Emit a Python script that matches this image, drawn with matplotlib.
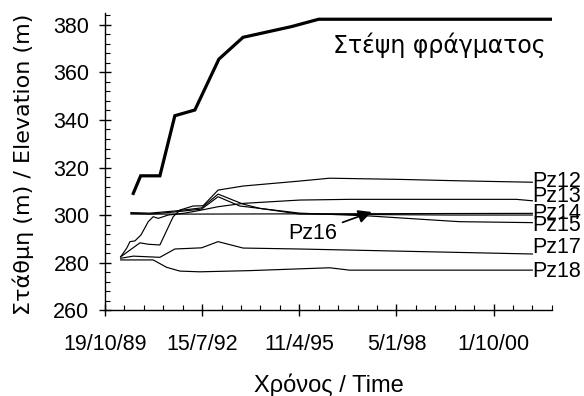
import matplotlib
matplotlib.use("Agg")
import matplotlib.pyplot as plt
import matplotlib.dates as mdates
import numpy as np
import pandas as pd

plt.rcParams['font.family'] = ['Liberation Sans', 'DejaVu Sans']

# ---- data ----
crest_dates = ["1990-08-06", "1990-10-21", "1991-05-07", "1991-10-08", "1992-05-01",
               "1993-01-03", "1993-09-09", "1995-01-20", "1995-10-27", "2002-05-18"]
crest_vals = [309.1, 316.5, 316.5, 341.8, 344.2, 365.6, 374.8, 379.3, 382.4, 382.4]

pz12_dates = ["1990-03-29", "1990-10-14", "1991-01-07", "1991-05-07", "1991-09-21",
              "1991-11-29", "1992-04-13", "1992-07-25", "1992-12-26", "1993-09-09",
              "1995-04-15", "1996-02-17", "1998-02-06", "1999-10-15", "2001-11-04"]
pz12_vals = [282.4, 288.3, 287.7, 287.4, 299.3, 302.1, 303.8, 303.9, 310.5, 312.2,
             314.3, 315.5, 315.0, 314.4, 313.8]

pz13_dates = ["1990-03-29", "1990-05-30", "1990-07-03", "1990-08-23", "1990-10-24",
              "1991-01-07", "1991-02-27", "1991-04-20", "1991-08-01", "1992-01-19",
              "1992-07-09", "1992-12-26", "1993-09-09", "1995-04-15", "1996-09-10",
              "1999-07-05", "2001-05-23", "2001-11-04"]
pz13_vals = [282.4, 286.0, 288.8, 289.1, 291.6, 297.2, 299.3, 298.6, 300.0, 300.8,
             302.1, 303.5, 304.9, 306.3, 306.6, 306.6, 306.6, 306.0]

pz14_dates = ["1990-07-13", "1992-06-21", "1995-04-15", "2001-11-04"]
pz14_vals = [300.4, 300.4, 300.5, 300.7]

pz15_dates = ["1990-07-13", "1991-01-24", "1991-10-08", "1992-07-09", "1992-12-26",
              "1993-08-06", "1995-04-15", "1997-04-03", "1999-10-15", "2001-11-04"]
pz15_vals = [300.8, 300.4, 301.3, 302.5, 307.7, 303.8, 300.8, 299.6, 297.2, 296.8]

pz16_dates = ["1990-07-13", "1991-01-24", "1991-10-08", "1992-07-09", "1992-12-26",
              "1993-09-09", "1994-02-28", "1995-04-15", "1997-04-24", "1999-07-05",
              "2001-11-04"]
pz16_vals = [301.0, 300.8, 301.7, 303.0, 308.8, 304.6, 302.8, 300.4, 300.2, 300.0, 300.0]

pz17_dates = ["1990-03-29", "1990-08-06", "1991-05-07", "1991-10-08", "1992-07-09",
              "1992-12-26", "1993-09-09", "1995-04-15", "1998-02-06", "2001-11-04"]
pz17_vals = [281.8, 282.7, 282.2, 285.7, 286.2, 288.8, 286.1, 285.7, 284.8, 283.6]

pz18_dates = ["1990-03-29", "1991-02-27", "1991-07-15", "1991-11-29", "1992-06-21",
              "1993-11-17", "1996-02-17", "1996-09-10", "2001-11-04"]
pz18_vals = [281.1, 281.1, 278.0, 276.4, 276.1, 276.6, 277.8, 276.8, 276.8]

label_names = ["Pz12", "Pz13", "Pz14", "Pz15", "Pz17", "Pz18"]
label_vals = [314.3, 307.6, 300.8, 295.8, 286.5, 276.4]

x_start = "1989-10-19"
x_end = "2002-05-18"
tick_labels = ["19/10/89", "15/7/92", "11/4/95", "5/1/98", "1/10/00"]

# ---- plot ----
fig = plt.figure(figsize=(5.84, 3.96), dpi=100)
ax = fig.add_axes([0.1798, 0.217, 0.945 - 0.1798, 0.967 - 0.217])

d = pd.to_datetime
thin = dict(color='black', lw=0.85)
for dts, vals in [(pz12_dates, pz12_vals), (pz13_dates, pz13_vals), (pz14_dates, pz14_vals),
                  (pz15_dates, pz15_vals), (pz16_dates, pz16_vals), (pz17_dates, pz17_vals),
                  (pz18_dates, pz18_vals)]:
    ax.plot(d(dts), vals, **thin)
ax.plot(d(crest_dates), crest_vals, color='black', lw=2.3, solid_joinstyle='miter')

x0 = mdates.date2num(d(x_start))
x1 = mdates.date2num(d(x_end))
ax.set_xlim(x0, x1)
ax.set_ylim(260, 385)

ax.set_xticks(x0 + np.arange(0, 5) * 1000)
ax.set_xticklabels(tick_labels)
ax.set_xticks(x0 + np.arange(0, 4601, 200), minor=True)
ax.set_yticks(np.arange(260, 381, 20))
ax.set_yticks(np.arange(260, 385, 4), minor=True)

for s in ['top', 'right']:
    ax.spines[s].set_visible(False)
for s in ['left', 'bottom']:
    ax.spines[s].set_linewidth(1.0)

ax.tick_params(which='major', direction='inout', length=8.5, width=1.0, labelsize=15.5)
ax.tick_params(axis='x', which='major', pad=13)
ax.tick_params(axis='y', which='major', pad=7)
ax.tick_params(which='minor', direction='in', length=3.6, width=0.8)

ax.set_ylabel("Στάθμη (m) / Elevation (m)", fontsize=16, family=['DejaVu Sans'])
ax.yaxis.set_label_coords(-0.16, 0.49)
ax.set_xlabel("Χρόνος / Time", fontsize=17)
ax.xaxis.set_label_coords(0.5, -0.215)

lab_x = d("2001-11-04")
for name, v in zip(label_names, label_vals):
    ax.text(lab_x, v, name, fontsize=15.5, va='center', ha='left')

ax.text(d("1999-03-24"), 371.6, "Στέψη φράγματος", fontsize=17, ha='center', va='center',
        family=['DejaVu Sans'])

ax.annotate("Pz16", xy=(d("1997-04-24"), 301.3), xytext=(d("1995-08-27"), 292.4),
            fontsize=15.5, ha='center', va='center',
            arrowprops=dict(arrowstyle='-|>', color='black', lw=1.2, mutation_scale=20,
                            shrinkA=2, shrinkB=0))

fig.savefig("out.png", dpi=100)
